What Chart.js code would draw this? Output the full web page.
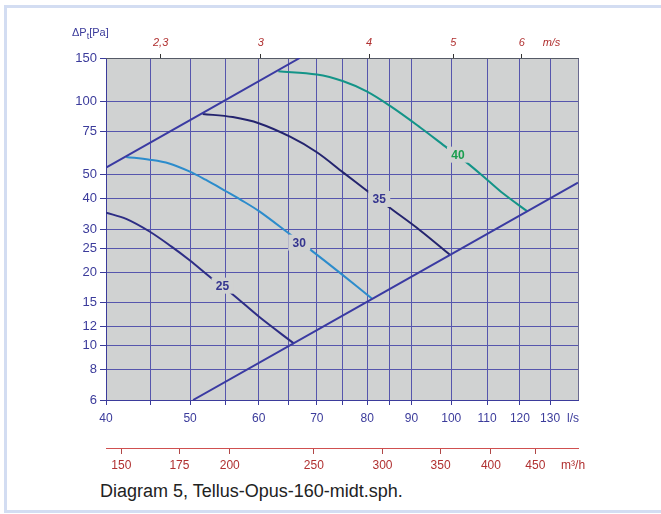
<!DOCTYPE html>
<html>
<head>
<meta charset="utf-8">
<title>Tellus-Opus-160-midt</title>
<script src="https://cdn.jsdelivr.net/npm/chart.js@4/dist/chart.umd.min.js"></script>
<style>
  body { margin: 0; background: #fff; width: 661px; height: 514px; overflow: hidden; position: relative;
         font-family: "Liberation Sans", Arial, sans-serif; }
  #frame { position: absolute; left: 4px; top: 5px; width: 680px; height: 502px;
           border: 3px solid #d3ddf2; border-right: none; }
  #wrap { position: absolute; left: 0; top: 0; }
  #ytitle { position: absolute; left: 72px; top: 26px; font-size: 11px; color: #3b3b9b; }
  #ytitle sub { font-size: 9px; vertical-align: -3px; }
  #caption { position: absolute; left: 100px; top: 481px; font-size: 18px; color: #222; }
</style>
</head>
<body>
<div id="frame"></div>
<div id="wrap"><canvas id="diagram" width="661" height="480"></canvas></div>
<div id="ytitle">&Delta;P<sub>t</sub>[Pa]</div>
<div id="caption">Diagram 5, Tellus-Opus-160-midt.sph.</div>
<script>
// axis ticks
const flowTicks = [40, 45, 50, 55, 60, 65, 70, 75, 80, 85, 90, 100, 110, 120, 130, 140];
const flowLabelled = [40, 50, 60, 70, 80, 90, 100, 110, 120, 130];
const flowUnitAt = 138.2;
const paTicks = [6, 8, 10, 12, 15, 20, 25, 30, 40, 50, 75, 100, 150];
const mpsTicks = [2.3, 3, 4, 5, 6];
const mpsLabels = ['2,3', '3', '4', '5', '6'];
const mpsUnitAt = 6.49;
const m3hTicks = [150, 175, 200, 250, 300, 350, 400, 450];
const m3hUnitAt = 497.5;

const lsPerMps = 20.106;   // Ø160 duct
const m3hPerLs = 3.6;

// curves, [l/s, Pa]
const systemUpper = [[40, 53.4], [66.9, 150]];
const systemLower = [[50.4, 6], [140, 46.4]];
const curve25 = [[40, 35.0], [42.2, 33.0], [44.9, 29.3], [47.6, 25.4], [49.9, 22.4], [53.1, 18.7], [56.0, 16.2], [60.1, 13.1], [65.9, 10.2]];
const curve30 = [[42.2, 59.1], [44.9, 57.6], [47.3, 55.6], [49.9, 51.6], [52.1, 47.7], [55.0, 42.8], [57.2, 39.5], [60.1, 35.4], [65.3, 28.4], [68.8, 24.7], [74.5, 19.8], [81.0, 15.6]];
const curve35 = [[51.7, 88.6], [56.0, 86.0], [60.1, 81.0], [65.2, 71.5], [70.0, 61.8], [75.1, 51.0], [80.3, 42.5], [84.7, 36.9], [92.1, 29.6], [99.7, 23.5]];
const curve40 = [[63.2, 132.3], [70.0, 128.4], [75.1, 120.5], [79.9, 109.5], [85.1, 95.3], [92.1, 78.0], [98.4, 65.3], [104.3, 55.9], [110, 47.7], [114.8, 41.9], [122.4, 35.4]];

// curve labels [text, l/s, Pa, colour]
const curveLabels = [
  ['25', 54.5, 17.6, '#35358f'],
  ['30', 66.8, 26.4, '#35358f'],
  ['35', 82.6, 39.8, '#35358f'],
  ['40', 101.8, 60.4, '#1a9e4e']
];

const plotBg = '#d0d2d2';
const gridBlue = '#5656ad';
const textBlue = '#3b3b9b';
const red = '#b03030';

Chart.defaults.font.family = '"Liberation Sans", Arial, sans-serif';

function series(pts, colour) {
  return {
    data: pts.map(p => ({ x: p[0], y: p[1] })),
    borderColor: colour,
    borderWidth: 2,
    pointRadius: 0,
    fill: false,
    tension: 0.35,
    xAxisID: 'x',
    yAxisID: 'y'
  };
}

function setTicks(list) {
  return function (scale) { scale.ticks = list.map(v => ({ value: v })); };
}

const plotBackground = {
  id: 'plotBackground',
  beforeDraw(chart) {
    const a = chart.chartArea;
    const ctx = chart.ctx;
    ctx.save();
    ctx.fillStyle = plotBg;
    ctx.fillRect(a.left, a.top, a.right - a.left, a.bottom - a.top);
    ctx.restore();
  }
};

const labelPlugin = {
  id: 'labelPlugin',
  afterDatasetsDraw(chart) {
    const ctx = chart.ctx;
    const xs = chart.scales.x, ys = chart.scales.y;
    ctx.save();
    ctx.font = 'bold 12px "Liberation Sans", Arial, sans-serif';
    ctx.textAlign = 'center';
    ctx.textBaseline = 'middle';
    curveLabels.forEach(l => {
      const px = xs.getPixelForValue(l[1]);
      const py = ys.getPixelForValue(l[2]);
      ctx.fillStyle = plotBg;
      ctx.fillRect(px - 11, py - 8, 22, 16);
      ctx.fillStyle = l[3];
      ctx.fillText(l[0], px, py + 1);
    });
    ctx.restore();
  }
};

new Chart(document.getElementById('diagram'), {
  type: 'line',
  data: {
    datasets: [
      series(systemUpper, '#3a3aa2'),
      series(systemLower, '#3a3aa2'),
      series(curve25, '#2d2d85'),
      series(curve30, '#2c8ccc'),
      series(curve35, '#24246e'),
      series(curve40, '#139488')
    ]
  },
  options: {
    responsive: false,
    animation: false,
    layout: { padding: { left: 0, top: 0, right: 83, bottom: 0 } },
    plugins: { legend: { display: false }, tooltip: { enabled: false } },
    scales: {
      y: {
        type: 'logarithmic',
        position: 'left',
        min: 6, max: 150,
        afterBuildTicks: setTicks(paTicks),
        afterFit: s => { s.width = 106; },
        ticks: { color: textBlue, font: { size: 13 }, padding: 3, autoSkip: false,
                 callback: v => String(v) },
        grid: { color: gridBlue, lineWidth: 1, tickLength: 6, tickColor: textBlue },
        border: { color: textBlue }
      },
      x: {
        type: 'logarithmic',
        position: 'bottom',
        weight: 0,
        min: 40, max: 140,
        afterBuildTicks: setTicks(flowTicks.concat([flowUnitAt])),
        afterFit: s => { s.height = 48; },
        ticks: {
          color: textBlue, font: { size: 12 }, padding: 6, autoSkip: false, maxRotation: 0,
          callback: v => v === flowUnitAt ? 'l/s' : (flowLabelled.includes(v) ? String(v) : '')
        },
        grid: {
          lineWidth: 1, tickLength: 5,
          color: c => c.tick && c.tick.value === flowUnitAt ? 'rgba(0,0,0,0)' :
                      (c.tick && c.tick.value === 140 ? '#6a6a90' : gridBlue),
          tickColor: c => c.tick && (c.tick.value === flowUnitAt || c.tick.value === 140) ? 'rgba(0,0,0,0)' : textBlue
        },
        border: { color: textBlue }
      },
      x2: {
        type: 'logarithmic',
        position: 'top',
        min: 40 / lsPerMps, max: 140 / lsPerMps,
        afterBuildTicks: setTicks(mpsTicks.concat([mpsUnitAt])),
        afterFit: s => { s.height = 58; },
        ticks: {
          color: red, font: { size: 11, style: 'italic' }, padding: 4, autoSkip: false, maxRotation: 0,
          callback: v => v === mpsUnitAt ? 'm/s' : mpsLabels[mpsTicks.indexOf(v)]
        },
        grid: {
          drawOnChartArea: false, tickLength: 4,
          tickColor: c => c.tick && c.tick.value === mpsUnitAt ? 'rgba(0,0,0,0)' : '#333'
        },
        border: { color: '#555a66' }
      },
      x3: {
        type: 'logarithmic',
        position: 'bottom',
        weight: 1,
        min: 40 * m3hPerLs, max: 140 * m3hPerLs,
        afterBuildTicks: setTicks(m3hTicks.concat([m3hUnitAt])),
        afterFit: s => { s.height = 32; },
        ticks: {
          color: red, font: { size: 12 }, padding: 4, autoSkip: false, maxRotation: 0,
          callback: v => v === m3hUnitAt ? 'm³/h' : String(v)
        },
        grid: {
          drawOnChartArea: false, tickLength: 6,
          tickColor: c => c.tick && c.tick.value === m3hUnitAt ? 'rgba(0,0,0,0)' : '#b04848'
        },
        border: { color: '#d05050' }
      }
    }
  },
  plugins: [plotBackground, labelPlugin]
});
</script>
</body>
</html>
